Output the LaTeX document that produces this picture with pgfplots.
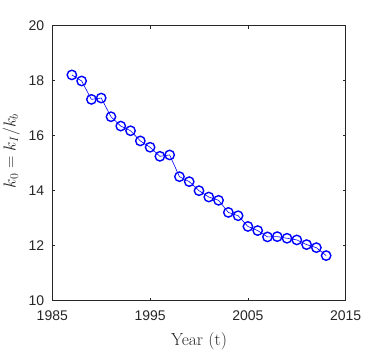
\documentclass[border=0pt]{standalone}
\usepackage{fontspec}
\usepackage{pgfplots}
\pgfplotsset{compat=1.18}
\newfontfamily\tickfont{Liberation Sans}
\begin{document}
\begin{tikzpicture}
\begin{axis}[
  scale only axis, width=293.4pt, height=275pt,
  xmin=1985, xmax=2015, ymin=10, ymax=20,
  xtick={1985,1995,2005,2015}, ytick={10,12,14,16,18,20},
  tick align=inside, major tick length=3pt,
  axis line style={black!85, line width=0.6pt},
  every tick/.style={black!85, line width=0.6pt},
  ticklabel style={font=\tickfont\fontsize{14}{14}\selectfont, text=black!85},
  xticklabel style={yshift=-6.3pt},
  yticklabel style={xshift=-4.5pt},
  /pgf/number format/assume math mode=true,
  /pgf/number format/1000 sep={},
  xlabel={Year (t)}, ylabel={$k_0 = k_I/k_b$},
  label style={font=\fontsize{17.5}{18}\selectfont, text=black!85},
  xlabel style={at={(rel axis cs:0.5,0)}, anchor=base, yshift=-44.3pt},
  ylabel style={at={(rel axis cs:0,0.544)}, anchor=center, yshift=41pt},
]
\addplot[blue, line width=0.6pt, mark=o, mark size=4.7pt, mark options={line width=1.4pt}] table {
x y
1987 18.21
1988 17.99
1989 17.32
1990 17.37
1991 16.69
1992 16.35
1993 16.18
1994 15.81
1995 15.58
1996 15.25
1997 15.30
1998 14.51
1999 14.33
2000 14.00
2001 13.77
2002 13.65
2003 13.21
2004 13.09
2005 12.70
2006 12.55
2007 12.32
2008 12.33
2009 12.27
2010 12.21
2011 12.04
2012 11.93
2013 11.64
};
\end{axis}
\pgfresetboundingbox
\path (-52.3pt,-50.3pt) rectangle (329.7pt,300.7pt);
\end{tikzpicture}
\end{document}
